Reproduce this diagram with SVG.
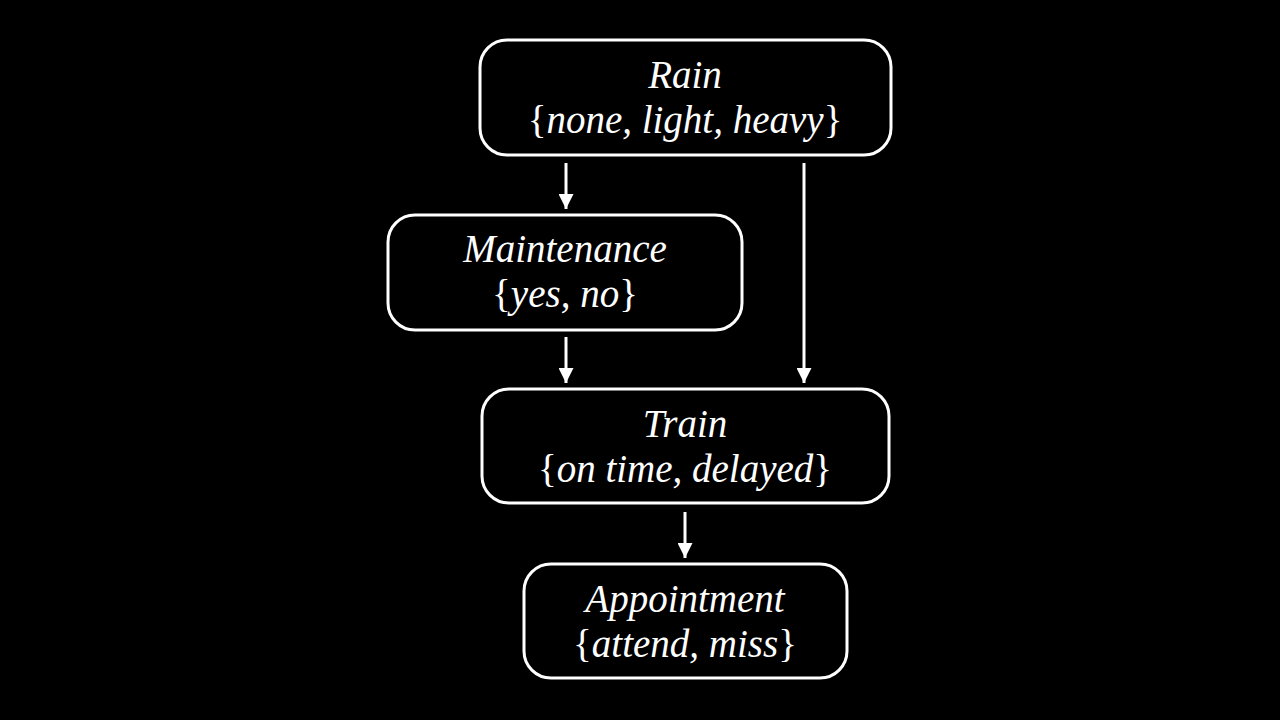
<svg xmlns="http://www.w3.org/2000/svg" width="1280" height="720" viewBox="0 0 1280 720">
<style>
.box{fill:#000;stroke:#fff;stroke-width:3}
.t{font-family:"Liberation Serif","Times New Roman",serif;font-size:39px;fill:#fff;text-anchor:middle}
.i{font-style:italic}
.c{stroke:#fff;stroke-width:3;fill:none}
</style>
<defs>
<marker id="ah" viewBox="0 0 10 10" refX="10" refY="5" markerWidth="5" markerHeight="5" markerUnits="strokeWidth" orient="auto">
<path d="M0,0 L10,5 L0,10 z" fill="#fff"/>
</marker>
</defs>
<rect width="1280" height="720" fill="#000"/>
<g id="connectors">
<line class="c" x1="566" y1="163" x2="566" y2="209" marker-end="url(#ah)"/>
<line class="c" x1="804" y1="163" x2="804" y2="383" marker-end="url(#ah)"/>
<line class="c" x1="566" y1="337" x2="566" y2="383" marker-end="url(#ah)"/>
<line class="c" x1="685" y1="512" x2="685" y2="558" marker-end="url(#ah)"/>
</g>
<g id="rain">
<rect class="box" x="480" y="40" width="411" height="115" rx="27"/>
<text class="t i" x="685" y="88">Rain</text>
<text class="t" x="685" y="133">{<tspan class="i">none, light, heavy</tspan>}</text>
</g>
<g id="maintenance">
<rect class="box" x="388" y="215" width="354" height="115" rx="27"/>
<text class="t i" x="565" y="262">Maintenance</text>
<text class="t" x="565" y="307">{<tspan class="i">yes, no</tspan>}</text>
</g>
<g id="train">
<rect class="box" x="482" y="389" width="407" height="114" rx="27"/>
<text class="t i" x="685" y="437">Train</text>
<text class="t" x="685" y="482">{<tspan class="i">on time, delayed</tspan>}</text>
</g>
<g id="appointment">
<rect class="box" x="524" y="564" width="323" height="114" rx="27"/>
<text class="t i" x="685" y="612">Appointment</text>
<text class="t" x="685" y="657">{<tspan class="i">attend, miss</tspan>}</text>
</g>
</svg>
